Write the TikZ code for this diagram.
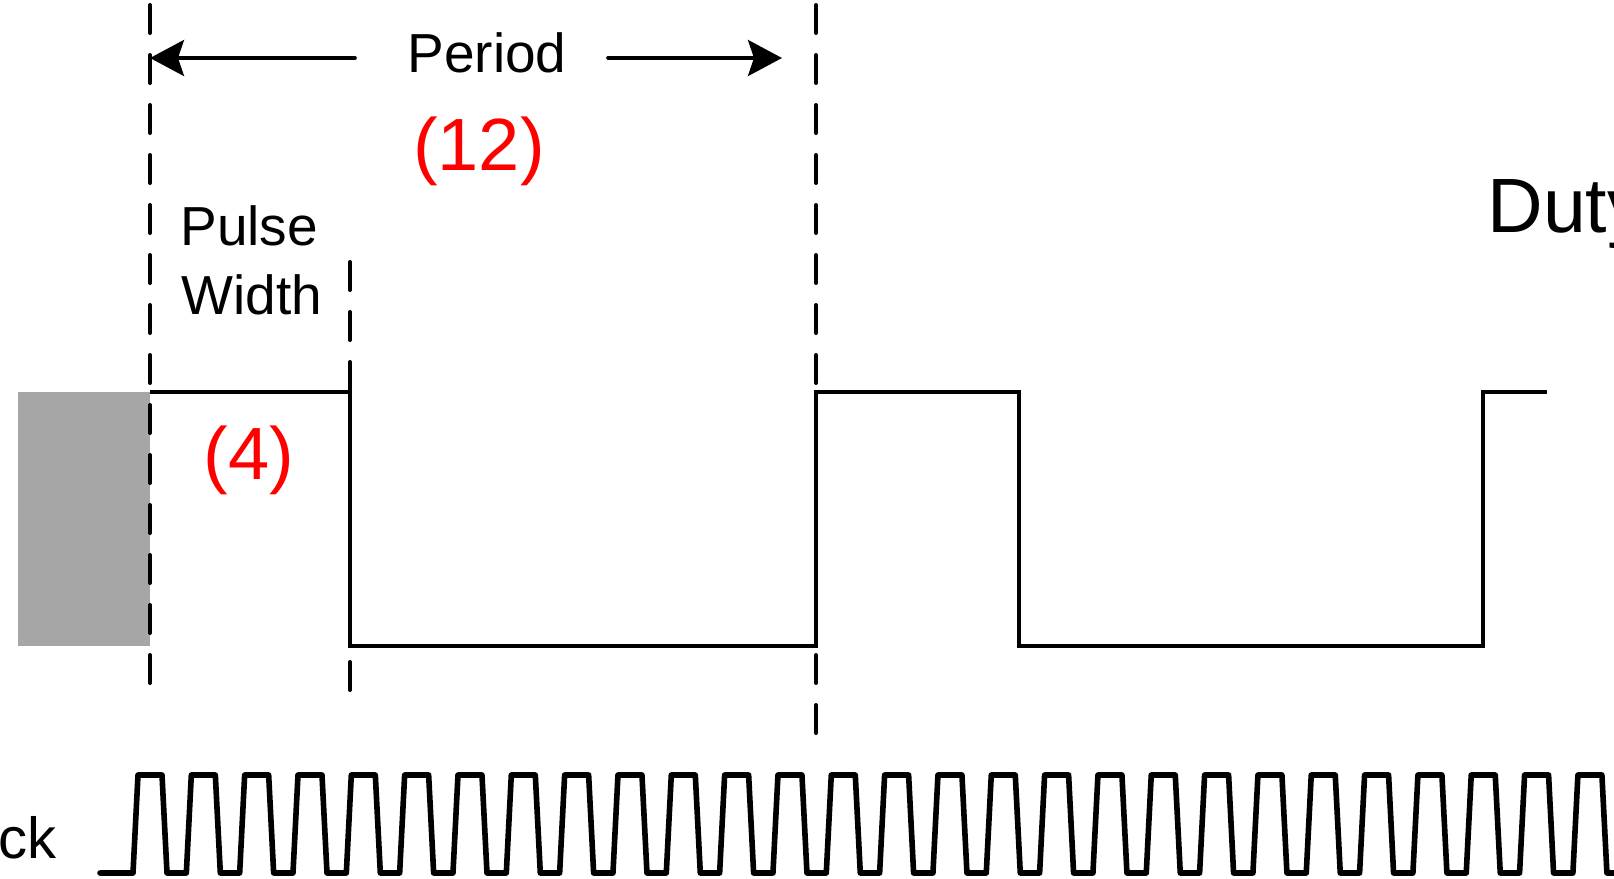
\documentclass[tikz,border=0pt]{standalone}
\usepackage{fontspec}
\setmainfont{Liberation Sans}
\usetikzlibrary{arrows.meta}
\definecolor{blockgray}{RGB}{166,166,166}
\begin{document}
\begin{tikzpicture}[x=0.5pt,y=-0.5pt,
  sig/.style={line width=1.8pt, line join=miter},
  clk/.style={line width=2.8pt, line join=round, line cap=round},
  guide/.style={line width=2pt, line cap=round, dash pattern=on 14pt off 11pt},
  arr/.style={line width=1.8pt, line cap=round, -{Stealth[length=17pt,width=18pt,inset=3pt]}},
  lbl/.style={inner sep=0pt, font=\fontsize{27.5pt}{30pt}\selectfont},
  val/.style={inner sep=0pt, text=red, font=\fontsize{37pt}{40pt}\selectfont}]
\clip (0,0) rectangle (1614,879);
% grey block before the first period
\fill[blockgray] (18,392) rectangle (150,646);
% guides
\draw[guide] (150,5) -- (150,700);
\draw[guide] (350,262) -- (350,700);
\draw[guide] (816,5) -- (816,746);
% pwm output
\draw[sig] (150,392) -- (350,392) -- (350,646) -- (816,646) -- (816,392)
  -- (1019,392) -- (1019,646) -- (1483,646) -- (1483,392) -- (1547,392);
% labels
\node[lbl, anchor=base] (period) at (487,72) {Period};
\node[val, anchor=base] (perval) at (479,170) {(12)};
\node[lbl, anchor=base west] (pulse) at (180,245) {Pulse};
\node[lbl, anchor=base west] (width) at (181,314) {Width};
\node[val, anchor=base] (pwval) at (249,479) {(4)};
\node[inner sep=0pt, anchor=base west, font=\fontsize{38.5pt}{40pt}\selectfont] (duty) at (1487,232) {Duty};
\node[lbl, anchor=base west, font=\fontsize{29pt}{30pt}\selectfont] (ck) at (-2,858) {ck};
% period arrows
\coordinate (pl) at (355,58);
\coordinate (pltip) at (150,58);
\coordinate (pr) at (608,58);
\coordinate (prtip) at (782,58);
\draw[arr] (pl) -- (pltip);
\draw[arr] (pr) -- (prtip);
% clock
\draw[clk] (100,873) -- (133,873)
  \foreach \i in {1,...,29}{ -- ++(5,-98) -- ++(24,0) -- ++(5,98) -- ++(19.33,0) };
\end{tikzpicture}
\end{document}
